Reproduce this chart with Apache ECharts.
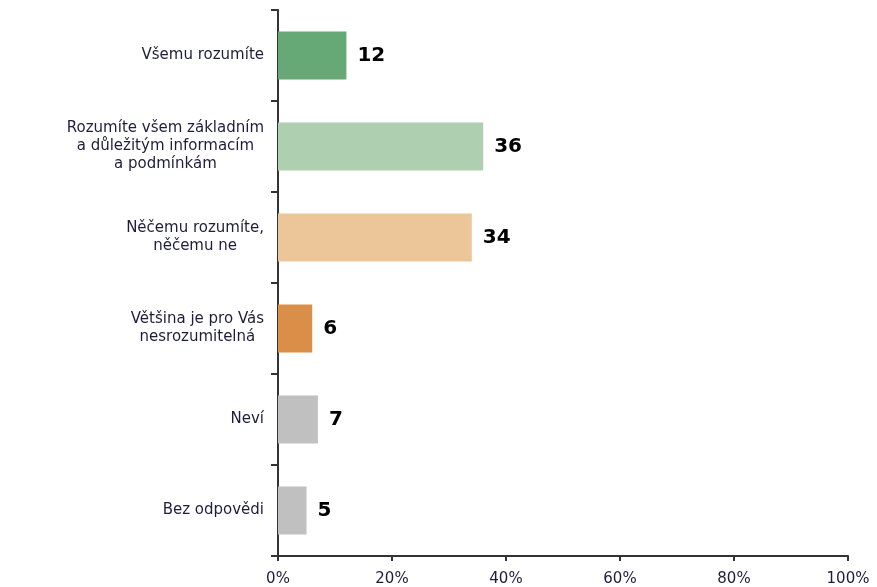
<!DOCTYPE html>
<html>
<head>
<meta charset="utf-8">
<script src="https://cdn.jsdelivr.net/npm/echarts@6/dist/echarts.min.js"></script>
<style>
  html, body { margin: 0; padding: 0; background: #fff; }
  #chart { width: 877px; height: 587px; }
</style>
</head>
<body>
<div id="chart"></div>
<script>
// answers, top to bottom
const categories = [
  'Všemu rozumíte',
  'Rozumíte všem základním\na důležitým informacím\na podmínkám',
  'Něčemu rozumíte,\nněčemu ne',
  'Většina je pro Vás\nnesrozumitelná',
  'Neví',
  'Bez odpovědi'
];
const values = [12, 36, 34, 6, 7, 5];
const barColors = ['#66a876', '#aed0b0', '#ecc598', '#d98f47', '#c0c0c0', '#c0c0c0'];
const xTicks = [0, 20, 40, 60, 80, 100];

const textColor = '#1e1e3c';
const fontName = 'DejaVu Sans, Verdana, sans-serif';

let chartDom = document.getElementById('chart');
let chart = echarts.init(chartDom);

let option = {
  animation: false,
  grid: { left: 278, right: 29, top: 10, bottom: 27, containLabel: false },
  xAxis: {
    type: 'value',
    min: xTicks[0],
    max: xTicks[xTicks.length - 1],
    interval: xTicks[1] - xTicks[0],
    splitLine: { show: false },
    axisLine: { show: true, lineStyle: { color: '#333', width: 2 } },
    axisTick: { show: true, length: 5, lineStyle: { color: '#333', width: 2 } },
    axisLabel: {
      margin: 16,
      color: textColor,
      fontFamily: fontName,
      fontSize: 15,
      formatter: '{value}%'
    }
  },
  yAxis: {
    type: 'category',
    inverse: true,
    data: categories,
    axisLine: { show: true, lineStyle: { color: '#333', width: 2 } },
    axisTick: { show: true, length: 7, alignWithLabel: false, lineStyle: { color: '#333', width: 2 } },
    axisLabel: {
      margin: 14,
      color: textColor,
      fontFamily: fontName,
      fontSize: 15,
      lineHeight: 18,
      formatter: function (v) {
        return '{c|' + v.split('\n').join('}\n{c|') + '}';
      },
      rich: {
        c: { align: 'center', color: textColor, fontFamily: fontName, fontSize: 15, lineHeight: 18 }
      }
    }
  },
  series: [{
    type: 'bar',
    barWidth: 48,
    data: values.map((v, i) => ({ value: v, itemStyle: { color: barColors[i] } })),
    label: {
      show: true,
      position: 'right',
      distance: 11,
      color: '#000',
      fontFamily: fontName,
      fontWeight: 'bold',
      fontSize: 20
    }
  }]
};

chart.setOption(option);
</script>
</body>
</html>
